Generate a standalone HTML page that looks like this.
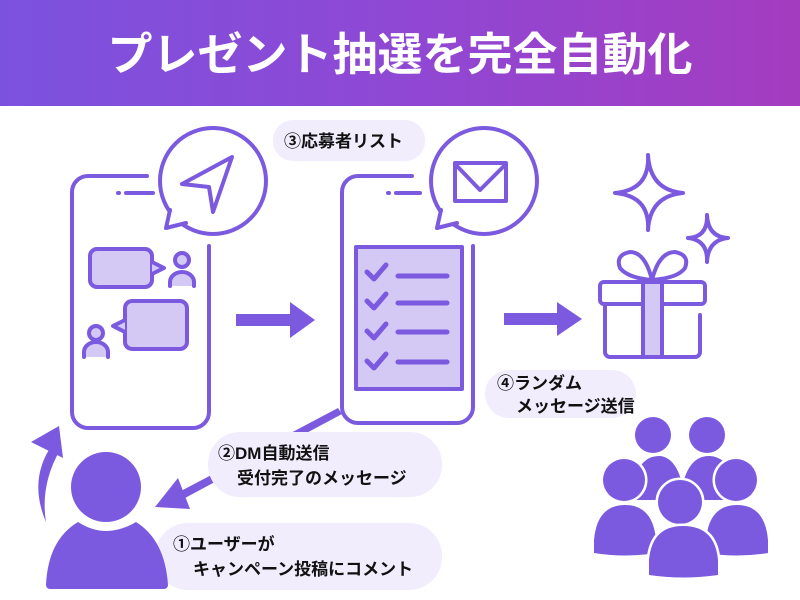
<!DOCTYPE html>
<html><head><meta charset="utf-8"><style>
html,body{margin:0;padding:0;background:#fff;width:800px;height:600px;overflow:hidden}
svg{display:block}
text{font-family:"Liberation Sans","Noto Sans CJK JP",sans-serif;font-weight:bold}
</style></head><body>
<svg width="800" height="600" viewBox="0 0 800 600" xmlns="http://www.w3.org/2000/svg">
<defs><linearGradient id="g" x1="0" x2="1" y1="0" y2="0"><stop offset="0" stop-color="#7b52de"/><stop offset="0.5" stop-color="#8f48d4"/><stop offset="1" stop-color="#a43cc0"/></linearGradient></defs>
<rect x="0" y="0" width="800" height="106" fill="url(#g)"/>
<text x="400" y="70" font-size="45" fill="#fff" text-anchor="middle">プレゼント抽選を完全自動化</text>

<g fill="none" stroke="#7b5ae0" stroke-width="4" stroke-linecap="round" stroke-linejoin="round">
<path d="M147 176 H88 a16 16 0 0 0 -16 16 V412 a16 16 0 0 0 16 16 H193 a16 16 0 0 0 16 -16 V246"/>
<path d="M118 193 h1 M126 193 H153"/>
<circle cx="213" cy="181" r="53" fill="#fff"/>
<path d="M170 210 L166 228 L186 223" fill="#fff"/>
<path d="M232 157 L182 184 L209 187 L213 212 Z"/>
<rect x="90" y="249" width="62" height="38" rx="7" fill="#d4c8f5"/>
<path d="M152 262 L164 268 L152 274" fill="#d4c8f5"/>
<circle cx="182" cy="260" r="7" fill="#d4c8f5"/>
<path d="M170 286 V282 a12 10 0 0 1 24 0 V286" fill="#d4c8f5"/>
<rect x="125" y="301" width="62" height="48" rx="7" fill="#d4c8f5"/>
<path d="M125 320 L113 326 L125 332" fill="#d4c8f5"/>
<circle cx="96" cy="333" r="7" fill="#d4c8f5"/>
<path d="M84 357 V352 a12 10 0 0 1 24 0 V357" fill="#d4c8f5"/>
<path d="M412 176 H358 a16 16 0 0 0 -16 16 V407 a16 16 0 0 0 16 16 H457 a16 16 0 0 0 16 -16 V246"/>
<path d="M388 193 h1 M396 193 H420"/>
<circle cx="484" cy="181" r="53" fill="#fff"/>
<path d="M441 210 L437 228 L457 223" fill="#fff"/>
<rect x="455" y="163" width="51" height="38"/>
<path d="M455 164 L480 190 L506 164"/>
<rect x="356" y="247" width="106" height="142" fill="#d4c8f5" stroke-linecap="butt"/>
<g stroke-width="5">
<path d="M367 272 l7 7 l12 -14 M398 276 H447"/>
<path d="M367 301 l7 7 l12 -14 M398 303 H447"/>
<path d="M367 331 l7 7 l12 -14 M398 332 H447"/>
<path d="M367 361 l7 7 l12 -14 M398 362 H447"/>
</g>
<path d="M648 155 Q650 190 615 193 Q650 196 648 230 Q650 196 683 193 Q650 190 648 155 Z"/>
<path d="M707 215 Q708 237 688 238 Q708 240 707 262 Q708 240 728 238 Q708 237 707 215 Z"/>
<path d="M652 280 Q645 252 630 252 Q615 255 620 268 Q628 278 652 280 Q659 252 675 252 Q690 255 685 268 Q678 278 652 280"/>
<rect x="600" y="282" width="105" height="22" rx="4"/>
<path d="M605 304 V352 a5 5 0 0 0 5 5 H695 a5 5 0 0 0 5 -5 V315"/>
<rect x="643" y="282" width="19" height="75" fill="#d4c8f5"/>
</g>
<g fill="#7b5ae0">
<path d="M236 314 H290 V302 L315 320 L290 338 V326 H236 Z"/>
<path d="M504 313 H557 V302 L582 319 L557 336 V325 H504 Z"/>
<path d="M338 408 L342 414 L185 498 L181 491 Z"/>
<path d="M155 507 L178 478 L190 509 Z"/>
<path d="M46 522 Q28 480 52 445 L60 450 Q40 485 46 522 Z"/>
<path d="M31 442 L59 426 L63 458 Z"/>
</g>
<g fill="#f1edfd">
<rect x="273" y="120" width="152" height="41" rx="20"/>
<rect x="485" y="370" width="151" height="48" rx="24"/>
<rect x="208" y="432" width="234" height="65" rx="32"/>
<rect x="155" y="523" width="287" height="67" rx="33"/>
</g>
<g font-size="17" fill="#111">
<text x="284" y="147">③応募者リスト</text>
<text x="497" y="389">④ランダム</text>
<text x="516" y="412">メッセージ送信</text>
<text x="218" y="459">②DM自動送信</text>
<text x="237" y="484">受付完了のメッセージ</text>
<text x="173" y="550">①ユーザーが</text>
<text x="193" y="575">キャンペーン投稿にコメント</text>
</g>
<g fill="#7b5ae0">
<circle cx="106" cy="487" r="35"/>
<path d="M78 522 Q106 540 136 522 Q165 540 168 585 a4 4 0 0 1 -4 4 H50 a4 4 0 0 1 -4 -4 Q48 540 78 522 Z"/>
</g>
<g fill="#7b5ae0" stroke="#fff" stroke-width="5" paint-order="stroke">
<circle cx="653" cy="435" r="18"/>
<circle cx="707" cy="435" r="18"/>
<path d="M630 500 Q635 455 660 456 Q680 458 685 500 Z"/>
<path d="M680 500 Q685 455 710 456 Q735 458 735 500 Z"/>
<circle cx="624" cy="480" r="21"/>
<circle cx="736" cy="480" r="21"/>
<path d="M594 553 V540 Q597 505 625 505 Q653 505 656 540 V553 Q625 558 594 553 Z"/>
<path d="M706 553 V540 Q709 505 737 505 Q765 505 768 540 V553 Q737 558 706 553 Z"/>
<circle cx="680" cy="502" r="22"/>
<path d="M649 575 V560 Q652 526 683 526 Q715 526 718 560 V575 Q683 580 649 575 Z"/>
</g>
</svg>
</body></html>
